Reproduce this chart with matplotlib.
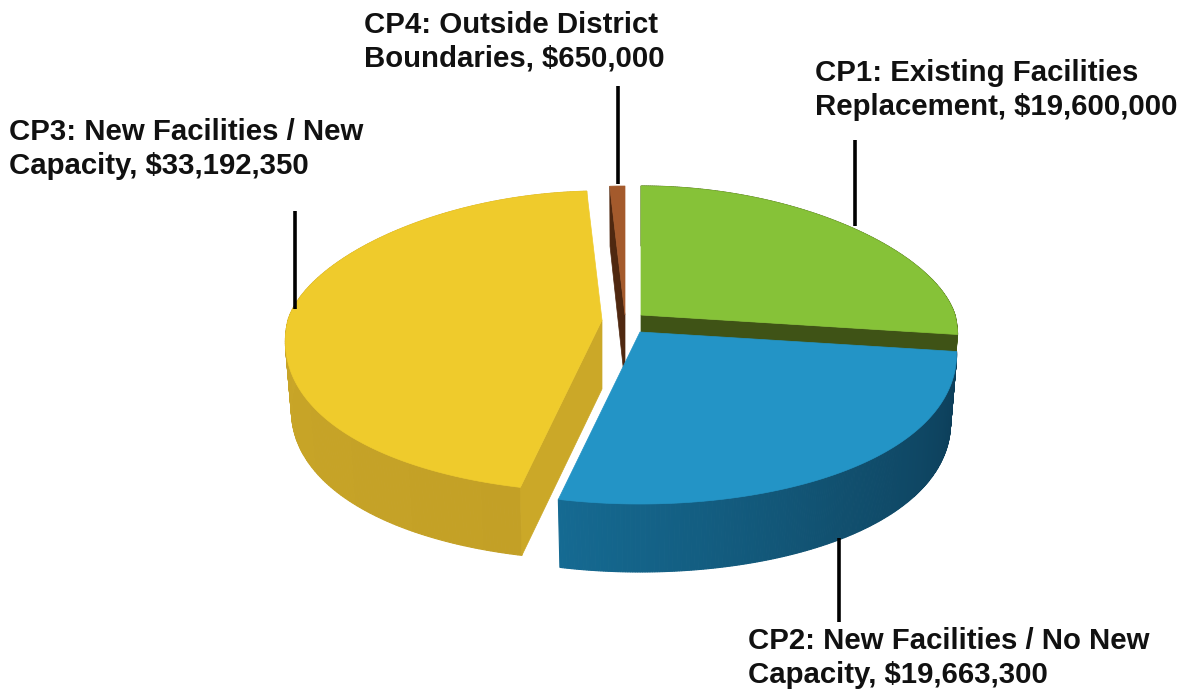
import numpy as np
import matplotlib
matplotlib.use("Agg")
import matplotlib.pyplot as plt
from matplotlib.patches import Polygon
from matplotlib.colors import to_rgb

categories = ["CP1: Existing Facilities", "CP2: New Facilities / No New Capacity",
              "CP3: New Facilities / New Capacity", "CP4: Outside District Boundaries"]
values = [19600000, 19663300, 33192350, 650000]
labels = ["CP1: Existing Facilities\nReplacement, $19,600,000",
          "CP2: New Facilities / No New\nCapacity, $19,663,300",
          "CP3: New Facilities / New\nCapacity, $33,192,350",
          "CP4: Outside District\nBoundaries, $650,000"]

W, H = 1187, 691
fig = plt.figure(figsize=(W/100, H/100), dpi=100)
ax = fig.add_axes([0, 0, 1, 1])
ax.set_xlim(0, W); ax.set_ylim(H, 0); ax.axis("off")

fr = np.array(values) / sum(values)
edges = np.concatenate([[0], np.cumsum(fr)]) * 2*np.pi

# apex of each exploded slice in the projected view
apex = [(641, 315), (640, 332), (602, 320), (625, 315)]
RX, RB, RF, K = 314, 129, 172, 0.13
DEPTH, BRX, BRB, BRF = 69, 308, 138, 171

def top(a, c):
    s, co = np.sin(a), np.cos(a)
    return np.c_[c[0] + RX*s*(1 - K*co), c[1] - np.where(co > 0, RB, RF)*co]

def bottom(a, c):
    s, co = np.sin(a), np.cos(a)
    return np.c_[c[0] + BRX*s*(1 - K*co), c[1] + DEPTH - np.where(co > 0, BRB, BRF)*co]

def mix(cols, t):
    cols = [np.array(to_rgb(x)) for x in cols]
    p = t*(len(cols)-1); i = min(int(p), len(cols)-2)
    return cols[i] + (cols[i+1]-cols[i])*(p-i)

face = ["#86c238", "#2394c6", "#efcb2c", "#a45a2c"]
outer = [["#4a6418"]*2, ["#0c3c57", "#11506f", "#156a92"],
         ["#c3a026", "#c9a628", "#d9b42c"], ["#5a2c12"]*2]
i_z = {3: 1, 0: 2, 2: 3, 1: 4}

def side(i):
    a = np.linspace(edges[i], edges[i+1], 240)
    T, B = top(a, apex[i]), bottom(a, apex[i])
    for j in range(len(a)-1):
        if max(B[j, 1], B[j+1, 1]) < min(T[j, 1], T[j+1, 1]):
            continue
        col = mix(outer[i], j/(len(a)-2))
        ax.add_patch(Polygon([T[j], T[j+1], B[j+1], B[j]], fc=col, ec=col, lw=.8, zorder=i_z[i]))

def cut(i, ang, col, z):
    a = np.array([ang])
    c = np.array(apex[i], float)
    b = np.array([apex[i][0], apex[i][1] + DEPTH])
    ax.add_patch(Polygon([c, top(a, apex[i])[0], bottom(a, apex[i])[0], b], fc=col, ec=col, lw=.5, zorder=z))

def upper(i):
    a = np.linspace(edges[i], edges[i+1], 160)
    ax.add_patch(Polygon(np.vstack([[apex[i]], top(a, apex[i])]), fc=face[i], ec=face[i], lw=.5, zorder=i_z[i]+.5))

cut(3, edges[3], "#4f2810", 1)
upper(3)
side(0); cut(0, edges[1], "#3f5316", 2.2); upper(0)
side(2); cut(2, edges[2], "#cba828", 3.2); upper(2)
side(1); upper(1)

for x0, y0, x1, y1 in [(855, 140, 855, 226), (839, 538, 839, 622), (295, 211, 295, 309), (618, 86, 618, 184)]:
    ax.plot([x0, x1], [y0, y1], color="black", lw=2.6, solid_capstyle="butt", zorder=6)

pos = [(815, 90), (748, 658), (9, 149), (364, 42)]
for (x, y), s in zip(pos, labels):
    ax.text(x, y, s, ha="left", va="center", family="Liberation Sans", fontweight="bold",
            fontsize=21.15, linespacing=1.27, color="#111111", zorder=7)

fig.savefig("out.png", dpi=100)
